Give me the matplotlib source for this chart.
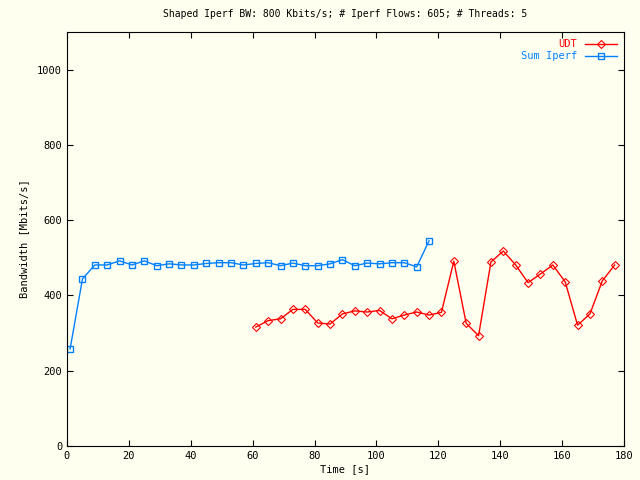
import numpy as np
import matplotlib
matplotlib.use('Agg')
import matplotlib.pyplot as plt

# sample times [s]
iperf_t = list(range(1, 118, 4))
iperf_bw = [258, 444, 481, 481, 492, 481, 492, 479, 484, 481,
            481, 485, 487, 487, 481, 485, 487, 479, 486, 479,
            479, 484, 495, 479, 486, 484, 487, 487, 476, 545]
udt_t = list(range(61, 178, 4))
udt_bw = [316, 333, 338, 363, 363, 327, 324, 351, 359, 356,
          360, 338, 348, 356, 348, 355, 491, 326, 293, 489,
          518, 481, 434, 457, 481, 436, 321, 351, 439, 481]

plt.rcParams['font.family'] = 'DejaVu Sans Mono'
plt.rcParams['font.size'] = 7.5

fig = plt.figure(figsize=(6.4, 4.8), dpi=100, facecolor='#fffff0')
ax = fig.add_axes([67/640, 34/480, 557/640, 414/480])
ax.set_facecolor('#fffff0')

ax.plot(udt_t, udt_bw, color='#ff0000', lw=1, marker='D', ms=4,
        mfc='none', mec='#ff0000', mew=0.8, label='UDT')
ax.plot(iperf_t, iperf_bw, color='#0080ff', lw=1, marker='s', ms=5,
        mfc='none', mec='#0080ff', mew=1, label='Sum Iperf')

ax.set_xlim(0, 180)
ax.set_ylim(0, 1100)
ax.set_xticks(range(0, 181, 20))
ax.set_yticks(range(0, 1001, 200))
ax.tick_params(direction='in', top=True, right=True, length=4)
ax.set_xlabel('Time [s]', labelpad=2)
ax.set_ylabel('Bandwidth [Mbits/s]', labelpad=6)
ax.set_title('Shaped Iperf BW: 800 Kbits/s; # Iperf Flows: 605; # Threads: 5',
             fontsize=7, pad=11)

leg = ax.legend(loc='upper right', frameon=False, markerfirst=False,
                handlelength=3, borderaxespad=0.3, labelspacing=0.2)
for txt, line in zip(leg.get_texts(), leg.get_lines()):
    txt.set_color(line.get_color())

fig.savefig('out.png', dpi=100, facecolor=fig.get_facecolor())
